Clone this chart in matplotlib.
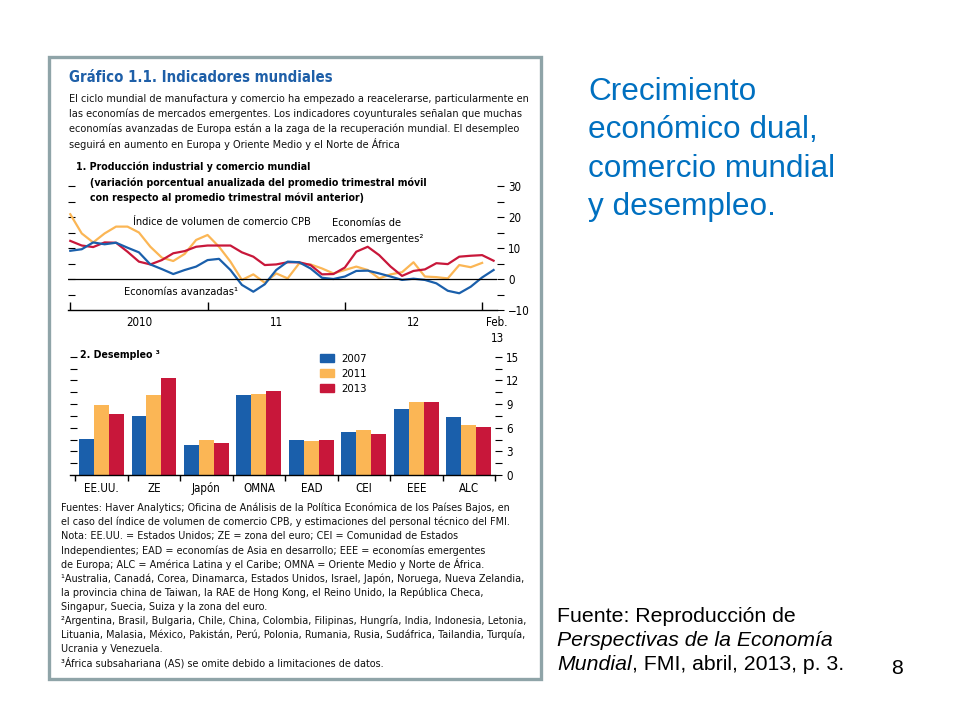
import matplotlib.pyplot as plt
import numpy as np
from matplotlib import font_manager
from matplotlib.patches import Rectangle, Patch

# Panel 1: monthly, Jan 2010 - Feb 2013 (annualized % change, 3m/3m)
cpb_trade = [20.9, 14.7, 11.8, 14.7, 16.9, 16.9, 15.0, 10.4, 6.9, 5.8, 8.1, 12.6,
             14.2, 10.4, 5.6, -0.3, 1.5, -1.2, 1.8, 0.2, 5.0, 4.7, 3.4, 1.8,
             2.9, 4.0, 2.9, 0.2, 1.5, 2.2, 5.4, 0.8, 0.6, 0.2, 4.5, 3.8, 5.2]
advanced = [9.1, 9.6, 11.8, 11.2, 11.7, 10.1, 8.6, 4.7, 3.2, 1.6, 2.9, 4.0,
            6.1, 6.5, 2.9, -1.9, -4.1, -1.7, 2.9, 5.6, 5.4, 3.4, 0.4, 0.0,
            0.8, 2.6, 2.7, 1.8, 0.8, -0.3, 0.1, -0.3, -1.4, -3.8, -4.6, -2.5, 0.5, 2.9]
emerging = [12.3, 10.8, 10.3, 11.8, 11.7, 8.8, 5.6, 4.7, 6.1, 8.3, 9.0, 10.4,
            10.8, 10.8, 10.8, 8.6, 7.2, 4.5, 4.7, 5.4, 5.4, 4.5, 1.5, 1.6,
            3.7, 8.8, 10.4, 7.7, 4.0, 1.0, 2.6, 3.1, 5.1, 4.8, 7.2, 7.5, 7.7, 5.9]
year_labels = ['2010', '11', '12', 'Feb.\n13']

# Panel 2: unemployment
categories = ['EE.UU.', 'ZE', 'Japón', 'OMNA', 'EAD', 'CEI', 'EEE', 'ALC']
unemp_2007 = [4.6, 7.5, 3.8, 10.2, 4.5, 5.5, 8.4, 7.4]
unemp_2011 = [8.9, 10.1, 4.5, 10.3, 4.3, 5.7, 9.3, 6.4]
unemp_2013 = [7.7, 12.3, 4.1, 10.7, 4.5, 5.2, 9.3, 6.1]
years = ['2007', '2011', '2013']

BLUE = '#1a5fab'
YELLOW = '#fbb655'
RED = '#c8173a'
TITLE_BLUE = '#1e5fa8'
SLIDE_BLUE = '#0070c0'

# pick the narrowest sans face available for the IMF figure
fonts = font_manager.fontManager.ttflist
names = {f.name for f in fonts}
condensed = {f.name for f in fonts if f.stretch in ('condensed', 'semi-condensed', 'extra-condensed')}
if 'Liberation Sans Narrow' in names:
    FONT = dict(family='Liberation Sans Narrow', stretch='normal')
elif 'DejaVu Sans' in condensed:
    FONT = dict(family='DejaVu Sans', stretch='condensed')
elif 'Roboto Condensed' in names:
    FONT = dict(family='Roboto Condensed', stretch='normal')
elif 'Roboto' in condensed:
    FONT = dict(family='Roboto', stretch='condensed')
else:
    FONT = dict(family='Liberation Sans', stretch='normal')
SANS = 'Liberation Sans' if 'Liberation Sans' in names else 'DejaVu Sans'
plt.rcParams['font.family'] = FONT['family']
plt.rcParams['font.stretch'] = FONT['stretch']

W, H = 960, 720
fig = plt.figure(figsize=(9.6, 7.2), dpi=100)
renderer = fig.canvas.get_renderer()


def fx(x):
    return x / W


def fy(y):
    return 1 - y / H


def put(x, y, s, **kw):
    kw.setdefault('va', 'center')
    if 'family' not in kw:
        kw.update(FONT)
    return fig.text(fx(x), fy(y), s, **kw)


def fit(s, width, cap, weight='normal'):
    t = fig.text(0, 0, s, fontsize=10, weight=weight, **FONT)
    wpx = t.get_window_extent(renderer).width
    t.remove()
    return min(10 * width / wpx, cap)


intro = ['El ciclo mundial de manufactura y comercio ha empezado a reacelerarse, particularmente en',
         'las economías de mercados emergentes. Los indicadores coyunturales señalan que muchas',
         'economías avanzadas de Europa están a la zaga de la recuperación mundial. El desempleo',
         'seguirá en aumento en Europa y Oriente Medio y el Norte de África']
notes = ['Fuentes: Haver Analytics; Oficina de Análisis de la Política Económica de los Países Bajos, en',
         'el caso del índice de volumen de comercio CPB, y estimaciones del personal técnico del FMI.',
         'Nota: EE.UU. = Estados Unidos; ZE = zona del euro; CEI = Comunidad de Estados',
         'Independientes; EAD = economías de Asia en desarrollo; EEE = economías emergentes',
         'de Europa; ALC = América Latina y el Caribe; OMNA = Oriente Medio y Norte de África.',
         '¹Australia, Canadá, Corea, Dinamarca, Estados Unidos, Israel, Japón, Noruega, Nueva Zelandia,',
         'la provincia china de Taiwan, la RAE de Hong Kong, el Reino Unido, la República Checa,',
         'Singapur, Suecia, Suiza y la zona del euro.',
         '²Argentina, Brasil, Bulgaria, Chile, China, Colombia, Filipinas, Hungría, India, Indonesia, Letonia,',
         'Lituania, Malasia, México, Pakistán, Perú, Polonia, Rumania, Rusia, Sudáfrica, Tailandia, Turquía,',
         'Ucrania y Venezuela.',
         '³África subsahariana (AS) se omite debido a limitaciones de datos.']
head = ['1. Producción industrial y comercio mundial',
        '(variación porcentual anualizada del promedio trimestral móvil',
        'con respecto al promedio trimestral móvil anterior)']

TITLE_FS = fit('Gráfico 1.1. Indicadores mundiales', 262, 13.5, 'bold')
BODY_FS = fit(intro[0], 458, 9.6)
HEAD_FS = fit(head[1], 333, 9.6, 'bold')
ANN_FS = fit('Índice de volumen de comercio CPB', 179, 9.6)
NOTE_FS = fit(notes[0], 450, 9.2)
TICK_FS = fit('OMNA', 32, 9.6)
LEG_FS = fit('2007', 26, 9.6)

# frame around the IMF figure
fig.patches.append(Rectangle((fx(49), fy(679)), fx(541) - fx(49), fy(57) - fy(679),
                             transform=fig.transFigure, fill=False,
                             edgecolor='#8fa4a8', linewidth=2.4))

put(69, 78, 'Gráfico 1.1. Indicadores mundiales', fontsize=TITLE_FS, weight='bold', color=TITLE_BLUE)
for k, line in enumerate(intro):
    put(69, 99 + 15 * k, line, fontsize=BODY_FS, color='#111111')

# ---- panel 1: lines ----
ax1 = fig.add_axes([fx(68), fy(310), fx(497) - fx(68), fy(186) - fy(310)])
ax1.set_facecolor('none')
months = np.arange(len(advanced))
ax1.plot(np.arange(len(cpb_trade)), cpb_trade, color=YELLOW, lw=1.6)
ax1.plot(months, emerging, color=RED, lw=1.6)
ax1.plot(months, advanced, color=BLUE, lw=1.6)
ax1.axhline(0, color='black', lw=0.9)
ax1.set_xlim(-0.2, 37.3)
ax1.set_ylim(-10, 30)
for s in ['top', 'left', 'right']:
    ax1.spines[s].set_visible(False)
ax1.spines['bottom'].set_linewidth(1.0)
ax1.set_xticks([0, 12, 24, 36])
ax1.set_xticklabels([])
ax1.tick_params(axis='x', which='major', direction='in', length=6, width=1)
ax1.set_xticks([6, 18, 30, 37.3], year_labels, minor=True)
ax1.tick_params(axis='x', which='minor', length=0, pad=4, labelsize=TICK_FS)
for lab in ax1.get_xticklabels(minor=True):
    lab.set_linespacing(1.35)
ax1.set_yticks(np.arange(-5, 31, 5))
ax1.tick_params(axis='y', left=True, right=False, labelleft=False,
                direction='in', length=5, width=0.8)
ax1r = ax1.twinx()
ax1r.set_ylim(-10, 30)
ax1r.set_yticks(np.arange(-10, 31, 10))
ax1r.set_yticks(np.arange(-5, 30, 10), minor=True)
ax1r.tick_params(axis='y', which='both', direction='out', length=5, width=0.8, pad=3, labelsize=TICK_FS)
for s in ['top', 'left', 'right', 'bottom']:
    ax1r.spines[s].set_visible(False)
ax1r.set_yticklabels(['\u221210', '0', '10', '20', '30'])

put(76, 167, head[0], fontsize=HEAD_FS, weight='bold')
put(90, 183, head[1], fontsize=HEAD_FS, weight='bold')
put(90, 198, head[2], fontsize=HEAD_FS, weight='bold')
put(133, 222, 'Índice de volumen de comercio CPB', fontsize=ANN_FS)
put(367, 223, 'Economías de', fontsize=ANN_FS, ha='center')
put(366, 239, 'mercados emergentes²', fontsize=ANN_FS, ha='center')
put(124, 292, 'Economías avanzadas¹', fontsize=ANN_FS)

# ---- panel 2: bars ----
ax2 = fig.add_axes([fx(70), fy(475), fx(495) - fx(70), fy(345) - fy(475)])
ax2.set_facecolor('none')
x = np.arange(len(categories))
w = 0.285
ax2.bar(x - w, unemp_2007, w, color=BLUE, label=years[0])
ax2.bar(x, unemp_2011, w, color=YELLOW, label=years[1])
ax2.bar(x + w, unemp_2013, w, color=RED, label=years[2])
ax2.set_xlim(-0.6, 7.42)
ax2.set_ylim(0, 16.5)
for s in ['top', 'left', 'right']:
    ax2.spines[s].set_visible(False)
ax2.spines['bottom'].set_linewidth(1.0)
ax2.set_xticks(np.arange(-0.5, 7.6, 1))
ax2.set_xticklabels([])
ax2.tick_params(axis='x', which='major', direction='out', length=4, width=1)
ax2.set_xticks(x, categories, minor=True)
ax2.tick_params(axis='x', which='minor', length=0, pad=5, labelsize=TICK_FS)
ax2.set_yticks(np.arange(1.5, 15.1, 1.5))
ax2.tick_params(axis='y', left=True, labelleft=False, direction='in', length=5, width=0.8)
ax2r = ax2.twinx()
ax2r.set_ylim(0, 16.5)
ax2r.set_yticks(np.arange(0, 15.1, 3))
ax2r.set_yticks(np.arange(1.5, 15, 3), minor=True)
ax2r.tick_params(axis='y', which='both', direction='out', length=5, width=0.8, pad=3, labelsize=TICK_FS)
for s in ['top', 'left', 'right', 'bottom']:
    ax2r.spines[s].set_visible(False)

handles = [Patch(color=c, label=l) for c, l in zip([BLUE, YELLOW, RED], years)]
fig.legend(handles=handles, loc='upper left', bbox_to_anchor=(fx(320), fy(354)),
           frameon=False, fontsize=LEG_FS, handlelength=1.25, handleheight=0.75,
           handletextpad=0.6, labelspacing=0.42, borderpad=0, borderaxespad=0)
put(80, 355, '2. Desempleo ³', fontsize=HEAD_FS, weight='bold')

for k, line in enumerate(notes):
    put(61, 508 + 14.1 * k, line, fontsize=NOTE_FS, color='#111111')

# ---- slide text ----
slide_title = ['Crecimiento', 'económico dual,', 'comercio mundial', 'y desempleo.']
for k, line in enumerate(slide_title):
    put(588, 92 + 38.5 * k, line, fontsize=22.7, color=SLIDE_BLUE, family=SANS)

put(557, 616, 'Fuente: Reproducción de', fontsize=15.3, family=SANS)
put(557, 640, 'Perspectivas de la Economía', fontsize=15.3, family=SANS, style='italic')
t = put(557, 664, 'Mundial', fontsize=15.3, family=SANS, style='italic')
x_end = t.get_window_extent(renderer).x1
fig.text(x_end / W, fy(664), ', FMI, abril, 2013, p. 3.', fontsize=15.3, family=SANS, va='center')
put(897, 668, '8', fontsize=15.3, family=SANS, ha='center')

fig.savefig('out.png', dpi=100)
